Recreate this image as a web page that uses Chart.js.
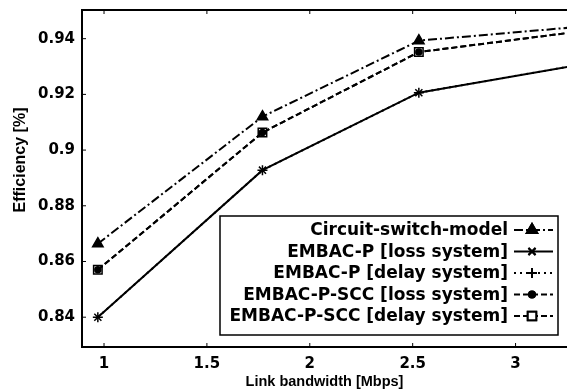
<!DOCTYPE html>
<html>
<head>
<meta charset="utf-8">
<script src="https://cdn.jsdelivr.net/npm/chart.js@4"></script>
<style>
  html, body { margin: 0; padding: 0; background: #fff; overflow: hidden; }
  #wrap { width: 567px; height: 389px; }
</style>
</head>
<body>
<div id="wrap"><canvas id="chart" width="567" height="389"></canvas></div>
<script>
// data
const bandwidth = [0.97, 1.77, 2.53, 3.3];
const circuitSwitch = [0.8664, 0.912, 0.9393, 0.9442];
const embacLoss = [0.840, 0.8928, 0.9206, 0.9305];
const embacDelay = [0.840, 0.8928, 0.9206, 0.9305];
const sccLoss = [0.857, 0.9063, 0.9352, 0.9425];
const sccDelay = [0.857, 0.9063, 0.9352, 0.9425];
const xTicks = [1, 1.5, 2, 2.5, 3];
const yTicks = [0.84, 0.86, 0.88, 0.9, 0.92, 0.94];

const FONT = 'Liberation Sans, Arial, Helvetica, sans-serif';
const HEAVY = 'DejaVu Sans, Verdana, sans-serif';
const pts = arr => arr.map((v, i) => ({ x: bandwidth[i], y: v }));

const series = [
  { label: 'Circuit-switch-model', data: circuitSwitch, dash: [9, 3, 2, 3], style: 'triangle', radius: 6, fill: '#000' },
  { label: 'EMBAC-P [loss system]', data: embacLoss, dash: [], style: 'crossRot', radius: 5, fill: '#000' },
  { label: 'EMBAC-P [delay system]', data: embacDelay, dash: [2, 4], style: 'cross', radius: 5, fill: '#000' },
  { label: 'EMBAC-P-SCC [loss system]', data: sccLoss, dash: [6, 3], style: 'circle', radius: 3, fill: '#000' },
  { label: 'EMBAC-P-SCC [delay system]', data: sccDelay, dash: [6, 3], style: 'rect', radius: 6, fill: 'rgba(0,0,0,0)' }
];

// top border, inward ticks, y title and the boxed legend
const framePlugin = {
  id: 'frame',
  afterDraw(chart) {
    const { ctx, chartArea: a, scales } = chart;
    ctx.save();
    ctx.strokeStyle = '#000';
    ctx.lineWidth = 2;
    ctx.setLineDash([]);
    ctx.beginPath();
    ctx.moveTo(a.left, a.top);
    ctx.lineTo(a.right, a.top);
    ctx.stroke();
    ctx.lineWidth = 1;
    ctx.beginPath();
    xTicks.forEach(t => {
      const px = scales.x.getPixelForValue(t);
      ctx.moveTo(px, a.bottom); ctx.lineTo(px, a.bottom - 4);
      ctx.moveTo(px, a.top); ctx.lineTo(px, a.top + 4);
    });
    yTicks.forEach(t => {
      const py = scales.y.getPixelForValue(t);
      ctx.moveTo(a.left, py); ctx.lineTo(a.left + 4, py);
    });
    ctx.stroke();

    // y axis title
    ctx.save();
    ctx.translate(21, 160);
    ctx.rotate(-Math.PI / 2);
    ctx.fillStyle = '#000';
    ctx.font = 'bold 16px ' + FONT;
    ctx.textAlign = 'center';
    ctx.textBaseline = 'middle';
    ctx.fillText('Efficiency [%]', 0, 0);
    ctx.restore();

    // legend
    const bx = 220, by = 216, bw = 338, bh = 119;
    ctx.fillStyle = '#fff';
    ctx.fillRect(bx, by, bw, bh);
    ctx.lineWidth = 1.5;
    ctx.strokeRect(bx, by, bw, bh);
    ctx.font = 'bold 17px ' + HEAVY;
    ctx.textAlign = 'right';
    ctx.textBaseline = 'middle';
    series.forEach((s, i) => {
      const ds = chart.data.datasets.find(d => d.label === s.label);
      const y = by + 14 + i * 21.5;
      ctx.fillStyle = '#000';
      ctx.fillText(ds.label, 508, y + 1);
      ctx.lineWidth = 2;
      ctx.setLineDash(ds.borderDash);
      ctx.beginPath();
      ctx.moveTo(514, y); ctx.lineTo(553, y);
      ctx.stroke();
      ctx.setLineDash([]);
      Chart.helpers.drawPoint(ctx, {
        pointStyle: ds.pointStyle, radius: ds.pointRadius, rotation: 0,
        borderWidth: 1.5
      }, 532, y);
      ctx.fillStyle = ds.pointStyle === 'rect' ? '#fff' : '#000';
      ctx.strokeStyle = '#000';
      ctx.fill();
      ctx.stroke();
    });
    ctx.restore();
  }
};

new Chart(document.getElementById('chart'), {
  type: 'line',
  data: {
    datasets: series.map(s => ({
      label: s.label,
      data: pts(s.data),
      borderColor: '#000',
      borderWidth: 2,
      borderDash: s.dash,
      pointStyle: s.style,
      pointRadius: s.radius,
      pointBorderWidth: 1.5,
      pointBorderColor: '#000',
      pointBackgroundColor: s.fill,
      fill: false,
      tension: 0
    })).reverse()
  },
  options: {
    responsive: false,
    animation: false,
    layout: { autoPadding: false, padding: { top: 10, right: 0, left: 0, bottom: 0 } },
    plugins: { legend: { display: false }, tooltip: { enabled: false } },
    scales: {
      x: {
        type: 'linear',
        min: 0.893,
        max: 3.25,
        afterBuildTicks: s => { s.ticks = xTicks.map(v => ({ value: v })); },
        afterFit: s => { s.height = 42; s.paddingLeft = 0; s.paddingRight = 0; },
        grid: { display: false, drawTicks: false },
        border: { color: '#000', width: 2 },
        ticks: { color: '#000', padding: 8, font: { family: HEAVY, size: 15, weight: 'bold' },
          maxRotation: 0, callback: v => String(v) },
        title: { display: true, text: 'Link bandwidth [Mbps]', color: '#000',
          font: { family: FONT, size: 14.5, weight: 'bold' }, padding: { top: 0, bottom: -2 } }
      },
      y: {
        min: 0.8293,
        max: 0.9503,
        afterBuildTicks: s => { s.ticks = yTicks.map(v => ({ value: v })); },
        afterFit: s => { s.width = 82; s.paddingTop = 0; s.paddingBottom = 0; },
        grid: { display: false, drawTicks: false },
        border: { color: '#000', width: 2 },
        ticks: { color: '#000', padding: 7, font: { family: HEAVY, size: 15, weight: 'bold' },
          callback: v => String(v) },
        title: { display: false }
      }
    }
  },
  plugins: [framePlugin]
});
</script>
</body>
</html>
